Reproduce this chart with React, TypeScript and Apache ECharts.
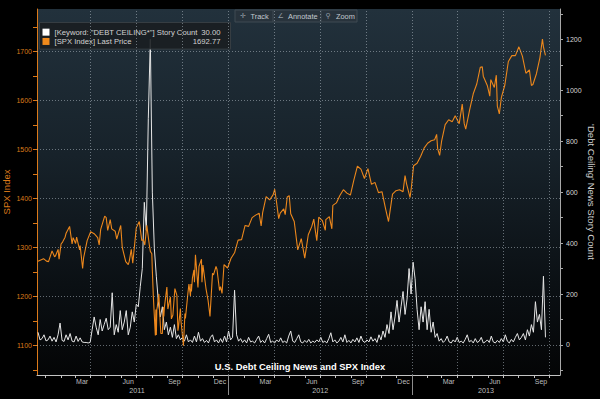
import React, { useEffect, useRef } from 'react';
import * as echarts from 'echarts';

// ---------- names & texts ----------
const countName = '[Keyword: "DEBT CEILING*"] Story Count';
const spxName = '[SPX Index] Last Price';
const titleText = 'U.S. Debt Ceiling News and SPX Index';
const leftAxisName = 'SPX Index';
const rightAxisName = "'Debt Ceiling' News Story Count";
const toolbarItems = [
  { icon: '✛', label: 'Track' },
  { icon: '∠', label: 'Annotate' },
  { icon: '⚲', label: 'Zoom' },
];

// ---------- SPX (date, last price) ----------
const spxDates = [
  '2010-12-17','2010-12-28','2011-01-03','2011-01-07','2011-01-14','2011-01-19','2011-01-21','2011-01-26','2011-01-28','2011-02-01',
  '2011-02-04','2011-02-09','2011-02-11','2011-02-18','2011-02-23','2011-02-25','2011-03-02','2011-03-04','2011-03-10','2011-03-11',
  '2011-03-16','2011-03-18','2011-03-25','2011-04-01','2011-04-08','2011-04-15','2011-04-18','2011-04-21','2011-04-29','2011-05-02',
  '2011-05-05','2011-05-10','2011-05-13','2011-05-20','2011-05-23','2011-05-27','2011-05-31','2011-06-03','2011-06-10','2011-06-15',
  '2011-06-17','2011-06-21','2011-06-24','2011-07-01','2011-07-07','2011-07-12','2011-07-15','2011-07-18','2011-07-22','2011-07-27',
  '2011-07-29','2011-08-01','2011-08-02','2011-08-04','2011-08-05','2011-08-08','2011-08-09','2011-08-10','2011-08-11','2011-08-12',
  '2011-08-15','2011-08-18','2011-08-19','2011-08-22','2011-08-24','2011-08-25','2011-08-26','2011-08-31','2011-09-02','2011-09-07',
  '2011-09-09','2011-09-12','2011-09-16','2011-09-20','2011-09-22','2011-09-23','2011-09-27','2011-09-28','2011-09-30','2011-10-03',
  '2011-10-06','2011-10-07','2011-10-12','2011-10-14','2011-10-17','2011-10-18','2011-10-19','2011-10-21','2011-10-24','2011-10-25',
  '2011-10-27','2011-10-28','2011-11-01','2011-11-03','2011-11-08','2011-11-09','2011-11-11','2011-11-17','2011-11-21','2011-11-25',
  '2011-11-30','2011-12-02','2011-12-07','2011-12-09','2011-12-14','2011-12-16','2011-12-19','2011-12-23','2011-12-30',
  '2012-01-06','2012-01-13','2012-01-20','2012-01-27','2012-02-03','2012-02-10','2012-02-17','2012-02-24','2012-03-02','2012-03-06',
  '2012-03-09','2012-03-16','2012-03-23','2012-03-30','2012-04-02','2012-04-05','2012-04-10','2012-04-13','2012-04-20','2012-04-23',
  '2012-04-27','2012-05-01','2012-05-04','2012-05-11','2012-05-18','2012-05-25','2012-06-01','2012-06-08','2012-06-15','2012-06-19',
  '2012-06-22','2012-06-25','2012-06-29','2012-07-06','2012-07-12','2012-07-13','2012-07-20','2012-07-25','2012-07-27','2012-08-03',
  '2012-08-10','2012-08-17','2012-08-24','2012-08-31','2012-09-07','2012-09-14','2012-09-21','2012-09-28','2012-10-05','2012-10-12',
  '2012-10-19','2012-10-26','2012-11-02','2012-11-09','2012-11-15','2012-11-16','2012-11-23','2012-11-30','2012-12-07','2012-12-14',
  '2012-12-18','2012-12-21','2012-12-28','2012-12-31',
  '2013-01-04','2013-01-11','2013-01-18','2013-01-25','2013-02-01','2013-02-08','2013-02-15','2013-02-19','2013-02-21','2013-02-25',
  '2013-03-01','2013-03-08','2013-03-15','2013-03-22','2013-03-28','2013-04-05','2013-04-11','2013-04-15','2013-04-18','2013-04-26',
  '2013-05-03','2013-05-10','2013-05-17','2013-05-21','2013-05-23','2013-05-31','2013-06-05','2013-06-07','2013-06-14','2013-06-18',
  '2013-06-20','2013-06-24','2013-06-28','2013-07-05','2013-07-12','2013-07-19','2013-07-26','2013-08-02','2013-08-09','2013-08-16',
  '2013-08-23','2013-08-27','2013-08-30','2013-09-06','2013-09-13','2013-09-18','2013-09-20','2013-09-24',
];
const spxValues = [
  1272,1277,1272,1271,1293,1281,1283,1296,1276,1307,
  1311,1321,1329,1343,1307,1320,1308,1321,1295,1304,
  1257,1279,1314,1332,1328,1320,1305,1337,1364,1361,
  1335,1357,1338,1333,1317,1331,1345,1300,1271,1265,
  1272,1296,1268,1340,1353,1314,1316,1305,1345,1305,
  1292,1287,1254,1200,1199,1120,1173,1121,1173,1179,
  1205,1141,1124,1124,1178,1159,1177,1219,1174,1199,
  1154,1162,1216,1202,1130,1136,1175,1151,1131,1099,
  1165,1155,1207,1225,1201,1225,1210,1238,1254,1229,
  1285,1285,1218,1261,1276,1229,1264,1216,1193,1159,
  1247,1244,1261,1255,1212,1220,1206,1265,1258,
  1278,1289,1315,1316,1345,1343,1361,1366,1370,1344,
  1371,1404,1397,1408,1419,1398,1359,1370,1379,1367,
  1403,1406,1369,1353,1295,1318,1278,1326,1343,1358,
  1335,1314,1362,1355,1335,1357,1363,1338,1386,1391,
  1406,1418,1411,1407,1438,1466,1460,1441,1461,1429,
  1433,1412,1414,1380,1353,1360,1409,1416,1418,1414,
  1447,1430,1402,1426,
  1467,1472,1486,1503,1513,1518,1520,1531,1502,1488,
  1518,1551,1561,1557,1569,1553,1593,1553,1542,1582,
  1614,1634,1668,1669,1650,1631,1609,1643,1627,1652,
  1589,1573,1606,1632,1680,1692,1692,1710,1691,1656,
  1663,1631,1633,1655,1688,1726,1710,1692.77,
];

// ---------- Debt ceiling story count (one reading every 4 days) ----------
const countStart = '2010-12-17';
const countStepDays = 4;
const countValues = [
  50,20,25,40,16,20,35,15,30,12, 40,86,18,14,40,20,45,15,12,35,
  14,28,12,10,10,8,10,60,110,70, 40,100,55,80,105,60,70,205,40,80,
  50,135,60,90,135,40,70,130,90,160, 150,230,300,560,450,890,1200,600,380,270,
  170,110,150,60,90,40,70,30,80,25, 40,20,
  30,15,40,12,20,10,35,12,50,15, 25,10,18,8,30,40,12,20,8,25,
  10,35,12,55,20,30,215,40,15,25, 10,20,8,30,12,15,8,22,35,10,
  18,8,25,42,10,15,8,20,12,28, 10,15,8,35,55,15,10,25,40,12,
  8,18,10,22,8,15,10,20,12,30, 10,15,8,25,48,12,20,8,15,30,
  12,40,10,18,8,22,12,28,10,35, 15,10,20,12,32,15,25,10,40,20,
  55,30,80,45,130,60,110,
  175,90,150,210,120,180,300,200,325,260, 140,60,150,90,170,60,140,50,90,30,
  45,15,
  25,10,18,35,12,8,20,12,30,10, 15,8,22,40,12,18,8,25,10,15,
  30,8,12,20,10,35,12,8,18,10, 25,12,40,15,8,22,12,30,45,20,
  30,45,20,60,35,80,50,170,90,120, 60,270,30,
];

// ---------- axes ----------
const xMinDate = '2010-12-15';
const xMaxDate = '2013-10-23';
const leftMin = 1039.3;
const leftMax = 1787.3;
const rightMin = -117.8;
const rightMax = 1318.9;
const leftTicks = [1050, 1100, 1150, 1200, 1250, 1300, 1350, 1400, 1450, 1500, 1550, 1600, 1650, 1700, 1750];
const leftLabels = [1100, 1200, 1300, 1400, 1500, 1600, 1700];
const rightTicks = [-100, 0, 100, 200, 300, 400, 500, 600, 700, 800, 900, 1000, 1100, 1200, 1300];
const rightLabels = [0, 200, 400, 600, 800, 1000, 1200];
const monthLabelDates = [
  '2011-03-15','2011-06-15','2011-09-15','2011-12-15',
  '2012-03-15','2012-06-15','2012-09-15','2012-12-15',
  '2013-03-15','2013-06-15','2013-09-15',
];
const monthNames = ['Jan','Feb','Mar','Apr','May','Jun','Jul','Aug','Sep','Oct','Nov','Dec'];
const quarterLineDates = [
  '2011-04-01','2011-07-01','2011-10-01','2012-01-01','2012-04-01','2012-07-01','2012-10-01',
  '2013-01-01','2013-04-01','2013-07-01','2013-10-01',
];
const yearStartDates = ['2012-01-01', '2013-01-01'];
const years = [2011, 2012, 2013];

const ts = (s: string) => Date.parse(s);
const DAY = 86400000;

const ORANGE = '#ec871c';
const ORANGE_AXIS = '#dc7a1a';
const GREY = '#c4c4c4';
const FONT = "'Liberation Sans', Arial, sans-serif";

export default function App() {
  const ref = useRef<HTMLDivElement>(null);

  useEffect(() => {
    if (!ref.current) return;
    const chart = echarts.init(ref.current, null, { renderer: 'svg' });

    const xMin = ts(xMinDate);
    const xMax = ts(xMaxDate);
    const spxData = spxDates.map((d, i) => [ts(d), spxValues[i]]);
    const countData = countValues.map((v, i) => [ts(countStart) + i * countStepDays * DAY, v]);

    const monthStarts: number[] = [];
    for (let y = 2011; y <= 2013; y++) {
      for (let m = 0; m < 12; m++) {
        const t = Date.UTC(y, m, 1);
        if (t >= xMin && t <= xMax) monthStarts.push(t);
      }
    }
    const yearCenters = years.map((y) => {
      const a = Math.max(Date.UTC(y, 0, 1), xMin);
      const b = Math.min(Date.UTC(y + 1, 0, 1), xMax);
      return (a + b) / 2;
    });

    const lastCount = countValues[countValues.length - 1].toFixed(2);
    const lastSpx = spxValues[spxValues.length - 1].toFixed(2);

    // toolbar graphic
    const tbX = 235, tbY = 10, tbH = 12;
    const tbSegs = [37.5, 48, 36.5];
    const tbElems: any[] = [];
    let cx = tbX;
    tbElems.push({
      type: 'rect',
      shape: { x: tbX, y: tbY, width: tbSegs.reduce((a, b) => a + b, 0), height: tbH },
      style: { fill: '#28333c', stroke: '#3f4a53', lineWidth: 1 },
    });
    toolbarItems.forEach((it, i) => {
      if (i > 0) {
        tbElems.push({
          type: 'line',
          shape: { x1: cx + 0.5, y1: tbY, x2: cx + 0.5, y2: tbY + tbH },
          style: { stroke: '#3f4a53', lineWidth: 1 },
        });
      }
      tbElems.push({
        type: 'text', x: cx + 5, y: tbY + tbH / 2,
        style: { text: it.icon, fill: '#8f9aa3', fontSize: 7, fontFamily: 'DejaVu Sans', verticalAlign: 'middle' },
      });
      tbElems.push({
        type: 'text', x: cx + 15.5, y: tbY + tbH / 2 + 0.5,
        style: { text: it.label, fill: '#c3cad0', fontSize: 7.4, fontFamily: FONT, verticalAlign: 'middle' },
      });
      cx += tbSegs[i];
    });

    const option: any = {
      animation: false,
      backgroundColor: '#000000',
      title: {
        text: titleText,
        left: 'center',
        top: 361.5,
        padding: 0,
        textStyle: { color: '#ffffff', fontSize: 9.4, fontWeight: 'bold', fontFamily: FONT },
      },
      legend: {
        data: [countName, spxName],
        left: 39.5,
        top: 22.5,
        orient: 'vertical',
        icon: 'rect',
        itemWidth: 7,
        itemHeight: 7,
        itemGap: 0,
        padding: [5, 10, 3, 3],
        backgroundColor: 'rgba(26,30,33,0.9)',
        borderColor: '#363d42',
        borderWidth: 1,
        selectedMode: false,
        textStyle: {
          color: '#d2d2d2',
          fontSize: 7.7,
          fontFamily: FONT,
          lineHeight: 9.3,
          rich: {
            n: { width: 136, fontSize: 7.7, fontFamily: FONT, color: '#d2d2d2', lineHeight: 9.3 },
            v: { width: 30, align: 'right', fontSize: 7.7, fontFamily: FONT, color: '#d2d2d2', lineHeight: 9.3 },
          },
        },
        formatter: (name: string) => `{n|${name}}{v|${name === countName ? lastCount : lastSpx}}`,
      },
      grid: {
        left: 37,
        right: 40,
        top: 9,
        bottom: 24,
        show: true,
        borderWidth: 0,
        containLabel: false,
        outerBoundsMode: 'none',
        backgroundColor: new echarts.graphic.LinearGradient(0, 0, 0, 1, [
          { offset: 0, color: '#22313c' },
          { offset: 0.4, color: '#17222a' },
          { offset: 0.75, color: '#0b1014' },
          { offset: 1, color: '#040506' },
        ]),
      },
      xAxis: [
        {
          type: 'value',
          min: xMin,
          max: xMax,
          position: 'bottom',
          axisLine: { show: true, onZero: false, lineStyle: { color: GREY, width: 1 } },
          axisTick: { show: true, customValues: monthStarts, length: 3, lineStyle: { color: GREY } },
          axisLabel: {
            customValues: monthLabelDates.map(ts),
            formatter: (v: number) => monthNames[new Date(v).getUTCMonth()],
            color: '#bdbdbd', fontSize: 7, fontFamily: FONT, margin: 3, hideOverlap: false,
          },
          splitLine: { show: false },
        },
        {
          type: 'value',
          min: xMin,
          max: xMax,
          position: 'bottom',
          axisLine: { show: false, onZero: false },
          axisTick: { show: true, customValues: yearStartDates.map(ts), length: 20, lineStyle: { color: '#8c8c8c' } },
          axisLabel: {
            customValues: yearCenters,
            formatter: (v: number) => String(new Date(v).getUTCFullYear()),
            color: '#bdbdbd', fontSize: 7.2, fontFamily: FONT, margin: 11.5, hideOverlap: false,
          },
          splitLine: { show: false },
        },
      ],
      yAxis: [
        {
          type: 'value',
          min: leftMin,
          max: leftMax,
          position: 'left',
          name: leftAxisName,
          nameLocation: 'middle',
          nameRotate: 90,
          nameGap: 26,
          nameMoveOverlap: false,
          nameTextStyle: { color: ORANGE_AXIS, fontSize: 9.5, fontFamily: FONT },
          axisLine: { show: true, onZero: false, lineStyle: { color: ORANGE_AXIS, width: 1 } },
          axisTick: { show: true, customValues: leftTicks, length: 4, lineStyle: { color: ORANGE_AXIS } },
          axisLabel: {
            customValues: leftLabels, color: ORANGE_AXIS, fontSize: 7, fontFamily: FONT, margin: 5,
            formatter: (v: number) => String(v),
          },
          splitLine: { show: false },
        },
        {
          type: 'value',
          min: rightMin,
          max: rightMax,
          position: 'right',
          name: rightAxisName,
          nameLocation: 'middle',
          nameRotate: -90,
          nameGap: 26,
          nameMoveOverlap: false,
          nameTextStyle: { color: '#cfcfcf', fontSize: 9.6, fontFamily: FONT },
          axisLine: { show: true, onZero: false, lineStyle: { color: '#a8a8a8', width: 1 } },
          axisTick: { show: true, customValues: rightTicks, length: 3, lineStyle: { color: '#a8a8a8' } },
          axisLabel: {
            customValues: rightLabels, color: '#d6d6d6', fontSize: 7, fontFamily: FONT, margin: 6,
            formatter: (v: number) => String(v),
          },
          splitLine: { show: false },
        },
      ],
      series: [
        {
          name: 'grid-lines',
          type: 'line',
          xAxisIndex: 0,
          yAxisIndex: 0,
          data: [],
          z: 1,
          silent: true,
          markLine: {
            silent: true,
            symbol: ['none', 'none'],
            label: { show: false },
            lineStyle: { color: 'rgba(175,185,195,0.55)', type: [1, 2], width: 1 },
            emphasis: { disabled: true },
            data: [
              ...quarterLineDates.map((d) => ({ xAxis: ts(d) })),
              ...leftLabels.map((v) => ({ yAxis: v })),
            ],
          },
        },
        {
          name: countName,
          type: 'line',
          xAxisIndex: 0,
          yAxisIndex: 1,
          data: countData,
          color: '#ffffff',
          symbol: 'none',
          showSymbol: false,
          lineStyle: { color: '#e6e6e6', width: 1 },
          z: 2,
        },
        {
          name: spxName,
          type: 'line',
          xAxisIndex: 0,
          yAxisIndex: 0,
          data: spxData,
          color: '#f08a1c',
          symbol: 'none',
          showSymbol: false,
          lineStyle: { color: ORANGE, width: 1.1 },
          z: 3,
        },
      ],
      graphic: { elements: tbElems },
    };

    chart.setOption(option);
    return () => chart.dispose();
  }, []);

  return (
    <div
      ref={ref}
      style={{ position: 'fixed', left: 0, top: 0, width: 600, height: 399, background: '#000' }}
    />
  );
}
